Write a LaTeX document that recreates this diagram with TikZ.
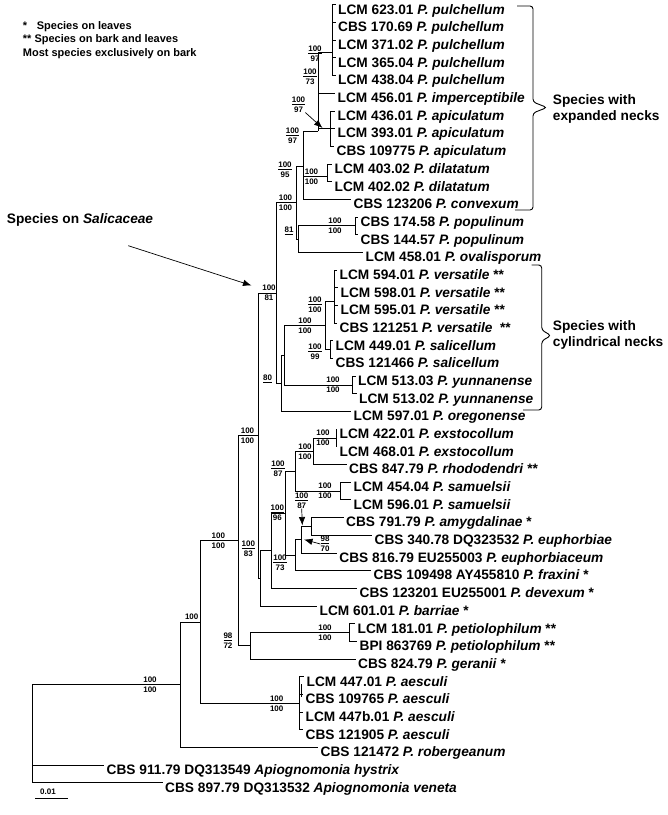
\documentclass[tikz,border=0pt]{standalone}
\usepackage{fontspec}
\setmainfont{Liberation Sans}
\usepackage{tikz}
\usetikzlibrary{arrows.meta}
\tikzset{branch/.style={line width=0.9pt}}
\tikzset{taxon/.style={anchor=west,inner xsep=2.5pt,inner ysep=0pt,text height=18.6pt,text depth=0pt,font=\fontsize{13.7}{16}\selectfont\bfseries}}
\tikzset{supp/.style={align=center,inner sep=0pt,font=\fontsize{8}{10}\selectfont\bfseries}}
\tikzset{note/.style={anchor=base west,inner sep=0pt,font=\fontsize{13.7}{16}\selectfont\bfseries}}
\tikzset{legend/.style={anchor=base west,inner sep=0pt,font=\fontsize{11}{13}\selectfont\bfseries}}
\tikzset{pointer/.style={-{Latex[length=8.5pt,width=6.5pt]},line width=0.7pt}}

\begin{document}
\begin{tikzpicture}[x=1pt,y=-1pt]
\useasboundingbox (0,0) rectangle (668,815);
% legend and notes
\node[legend] (leg1) at (22.7,29) {\makebox[14pt][l]{*}Species on leaves};
\node[legend] (leg2) at (22.7,42.7) {** Species on bark and leaves};
\node[legend] (leg3) at (22.7,56.7) {Most species exclusively on bark};
\node[note] (sali) at (6.7,223) {Species on \textit{Salicaceae}};
\node[note] (exp1) at (552.7,104) {Species with};
\node[note] (exp2) at (552.7,120) {expanded necks};
\node[note] (cyl1) at (552.7,330) {Species with};
\node[note] (cyl2) at (552.7,346.6) {cylindrical necks};

% internal nodes of the tree
\coordinate (root) at (32,733.8);
\coordinate (ing) at (180,684.7);
\coordinate (n100a) at (200,622);
\coordinate (aesc) at (299,703.3);
\coordinate (nmain) at (238.3,540.75);
\coordinate (n98) at (250,645.8);
\coordinate (pet) at (349.3,632.5);
\coordinate (T) at (258.3,435.7);
\coordinate (n83) at (260,578.4);
\coordinate (ndev) at (271.7,550.8);
\coordinate (n96) at (285,513.2);
\coordinate (nfr) at (295,555.2);
\coordinate (n9870) at (301.7,539.7);
\coordinate (amy) at (311.7,526.5);
\coordinate (n87) at (295.7,471.2);
\coordinate (nex) at (313.3,451.3);
\coordinate (exst) at (336,438.1);
\coordinate (sam) at (340,491.1);
\coordinate (S) at (276.7,293);
\coordinate (c80) at (281.7,383.4);
\coordinate (nvy) at (284.3,355.2);
\coordinate (yun) at (352.7,385);
\coordinate (nvs) at (325,325.4);
\coordinate (vers) at (334,301);
\coordinate (sal) at (330,349.7);
\coordinate (e1) at (296,202.6);
\coordinate (n81) at (298,239.2);
\coordinate (pop) at (355,225.9);
\coordinate (n95) at (303,166);
\coordinate (dil) at (327.7,176);
\coordinate (n318) at (318,131);
\coordinate (apic) at (330,128.7);
\coordinate (pulch) at (332,52);

% taxa
\node[taxon] (t1) at (335.5,4.9) {LCM 623.01 \textit{P. pulchellum}};
\node[taxon] (t2) at (335.5,22.58) {CBS 170.69 \textit{P. pulchellum}};
\node[taxon] (t3) at (335.5,40.26) {LCM 371.02 \textit{P. pulchellum}};
\node[taxon] (t4) at (335.5,57.94) {LCM 365.04 \textit{P. pulchellum}};
\node[taxon] (t5) at (335.5,75.62) {LCM 438.04 \textit{P. pulchellum}};
\node[taxon] (t6) at (335,93.3) {LCM 456.01 \textit{P. imperceptibile}};
\node[taxon] (t7) at (335,110.98) {LCM 436.01 \textit{P. apiculatum}};
\node[taxon] (t8) at (335,128.66) {LCM 393.01 \textit{P. apiculatum}};
\node[taxon] (t9) at (334,146.34) {CBS 109775 \textit{P. apiculatum}};
\node[taxon] (t10) at (332,164.02) {LCM 403.02 \textit{P. dilatatum}};
\node[taxon] (t11) at (332,181.7) {LCM 402.02 \textit{P. dilatatum}};
\node[taxon] (t12) at (351,199.38) {CBS 123206 \textit{P. convexum}};
\node[taxon] (t13) at (358,217.06) {CBS 174.58 \textit{P. populinum}};
\node[taxon] (t14) at (358,234.74) {CBS 144.57 \textit{P. populinum}};
\node[taxon] (t15) at (363,252.42) {LCM 458.01 \textit{P. ovalisporum}};
\node[taxon] (t16) at (337,270.1) {LCM 594.01 \textit{P. versatile} **};
\node[taxon] (t17) at (338,287.78) {LCM 598.01 \textit{P. versatile} **};
\node[taxon] (t18) at (338,305.46) {LCM 595.01 \textit{P. versatile} **};
\node[taxon] (t19) at (337,323.14) {CBS 121251 \textit{P. versatile}\ \ **};
\node[taxon] (t20) at (333,340.82) {LCM 449.01 \textit{P. salicellum}};
\node[taxon] (t21) at (333,358.5) {CBS 121466 \textit{P. salicellum}};
\node[taxon] (t22) at (355.5,376.18) {LCM 513.03 \textit{P. yunnanense}};
\node[taxon] (t23) at (356.5,393.86) {LCM 513.02 \textit{P. yunnanense}};
\node[taxon] (t24) at (351,411.54) {LCM 597.01 \textit{P. oregonense}};
\node[taxon] (t25) at (337,429.22) {LCM 422.01 \textit{P. exstocollum}};
\node[taxon] (t26) at (337,446.9) {LCM 468.01 \textit{P. exstocollum}};
\node[taxon] (t27) at (346.5,464.58) {CBS 847.79 \textit{P. rhododendri} **};
\node[taxon] (t28) at (351,482.26) {LCM 454.04 \textit{P. samuelsii}};
\node[taxon] (t29) at (351,499.94) {LCM 596.01 \textit{P. samuelsii}};
\node[taxon] (t30) at (343.5,517.62) {CBS 791.79 \textit{P. amygdalinae} *};
\node[taxon] (t31) at (372,535.3) {CBS 340.78 DQ323532 \textit{P. euphorbiae}};
\node[taxon] (t32) at (336.7,552.98) {CBS 816.79 EU255003 \textit{P. euphorbiaceum}};
\node[taxon] (t33) at (371,570.66) {CBS 109498 AY455810 \textit{P. fraxini} *};
\node[taxon] (t34) at (357,588.34) {CBS 123201 EU255001 \textit{P. devexum} *};
\node[taxon] (t35) at (317,606.02) {LCM 601.01 \textit{P. barriae} *};
\node[taxon] (t36) at (355,623.7) {LCM 181.01 \textit{P. petiolophilum} **};
\node[taxon] (t37) at (357,641.38) {BPI 863769 \textit{P. petiolophilum} **};
\node[taxon] (t38) at (355.5,659.06) {CBS 824.79 \textit{P. geranii} *};
\node[taxon] (t39) at (304,676.74) {LCM 447.01 \textit{P. aesculi}};
\node[taxon] (t40) at (303,694.42) {CBS 109765 \textit{P. aesculi}};
\node[taxon] (t41) at (303,712.1) {LCM 447b.01 \textit{P. aesculi}};
\node[taxon] (t42) at (303,729.78) {CBS 121905 \textit{P. aesculi}};
\node[taxon] (t43) at (318,747.46) {CBS 121472 \textit{P. robergeanum}};
\node[taxon] (t44) at (104,765.14) {CBS 911.79 DQ313549 \textit{Apiognomonia hystrix}};
\node[taxon] (t45) at (162.5,782.82) {CBS 897.79 DQ313532 \textit{Apiognomonia veneta}};

% branches
\draw[branch] (root) |- (ing) (root) |- (t44) (root) |- (t45);
\draw[branch] (ing) |- (n100a) (ing) |- (t43);
\draw[branch] (n100a) |- (nmain) (n100a) |- (aesc);
\draw[branch] (aesc) |- (t39) (aesc) |- (t40) (aesc) |- (t41) (aesc) |- (t42);
\draw[line width=1.5pt] (301.5,684) -- (301.5,697);
\draw[branch] (nmain) |- (T) (nmain) |- (n98);
\draw[branch] (n98) |- (pet) (n98) |- (t38);
\draw[branch] (pet) |- (t36) (pet) |- (t37);
\draw[branch] (T) |- (S) (T) |- (n83);
\draw[branch] (n83) |- (ndev) (n83) |- (t35);
\draw[branch] (ndev) |- (n96) (ndev) |- (t34);
\draw[branch] (n96) |- (n87) (n96) |- (nfr);
\draw[branch] (nfr) |- (n9870) (nfr) |- (t33);
\draw[branch] (n9870) |- (amy) (n9870) |- (t32);
\draw[branch] (amy) |- (t30) (amy) |- (t31);
\draw[branch] (n87) |- (nex) (n87) |- (sam);
\draw[branch] (sam) |- (t28) (sam) |- (t29);
\draw[branch] (nex) |- (exst) (nex) |- (t27);
\draw[branch] (exst) |- (t25) (exst) |- (t26);
\draw[branch] (S) |- (e1) (S) |- (c80);
\draw[branch] (c80) |- (nvy) (c80) |- (t24);
\draw[branch] (nvy) |- (nvs) (nvy) |- (yun);
\draw[branch] (yun) |- (t22) (yun) |- (t23);
\draw[branch] (nvs) |- (vers) (nvs) |- (sal);
\draw[branch] (vers) |- (t16) (vers) |- (t17) (vers) |- (t18) (vers) |- (t19);
\draw[branch] (sal) |- (t20) (sal) |- (t21);
\draw[branch] (e1) |- (n95) (e1) |- (n81);
\draw[branch] (n81) |- (pop) (n81) |- (t15);
\draw[branch] (pop) |- (t13) (pop) |- (t14);
\draw[branch] (n95) |- (n318) (n95) |- (dil) (n95) |- (t12);
\draw[branch] (dil) |- (t10) (dil) |- (t11);
\draw[branch] (n318) |- (pulch) (n318) |- (t6) (n318) |- (apic);
\draw[branch] (apic) |- (t7) (apic) |- (t8) (apic) |- (t9);
\draw[branch] (pulch) |- (t1) (pulch) |- (t2) (pulch) |- (t3) (pulch) |- (t4) (pulch) |- (t5);

% support values
\node[supp] (bs1) at (315,54) {\underline{100}\\97};
\node[supp] (bs2) at (310,77) {\underline{100}\\73};
\node[supp] (bs3) at (298.5,104.5) {\underline{100}\\97};
\node[supp] (bs4) at (292.5,135.5) {\underline{100}\\97};
\node[supp] (bs5) at (311.5,177) {100\\100};
\node[supp] (bs6) at (285,169.5) {\underline{100}\\95};
\node[supp] (bs7) at (285.5,202.6) {100\\100};
\node[supp] (bs8) at (289,231) {\underline{81}};
\node[supp] (bs9) at (335,225.9) {100\\100};
\node[supp] (bs10) at (269,293) {100\\81};
\node[supp] (bs11) at (305,325.4) {100\\100};
\node[supp] (bs12) at (315,305) {\underline{100}\\100};
\node[supp] (bs13) at (315,351.5) {\underline{100}\\99};
\node[supp] (bs14) at (333,385) {100\\100};
\node[supp] (bs15) at (267.5,379) {\underline{80}};
\node[supp] (bs16) at (247.5,435.7) {100\\100};
\node[supp] (bs17) at (323,438.1) {100\\100};
\node[supp] (bs18) at (305,451.3) {100\\100};
\node[supp] (bs19) at (278,469) {\underline{100}\\87};
\node[supp] (bs20) at (325,491.1) {100\\100};
\node[supp] (bs21) at (301.7,500.5) {\underline{100}\\87};
\node[supp] (bs22) at (277.3,512.5) {\underline{100}\\96};
\node[supp] (bs23) at (325,544) {\underline{98}\\70};
\node[supp] (bs24) at (280,563) {\underline{100}\\73};
\node[supp] (bs25) at (248.3,549) {\underline{100}\\83};
\node[supp] (bs26) at (218.3,540.75) {100\\100};
\node[supp] (bs27) at (228,641) {\underline{98}\\72};
\node[supp] (bs28) at (325,632.5) {100\\100};
\node[supp] (bs29) at (191.7,617) {100};
\node[supp] (bs30) at (276.7,703.3) {100\\100};
\node[supp] (bs31) at (150,684.7) {100\\100};

% pointers
\coordinate (salfrom) at (128.3,245.7);
\coordinate (salto) at (251.5,285.5);
\coordinate (apicpt) at (322.5,128);
\coordinate (amypt) at (302.3,525.5);
\coordinate (eupt) at (304,539.5);
\draw[pointer] (salfrom) -- (salto);
\draw[pointer] (bs3.south east) -- (apicpt);
\draw[pointer] (bs21.south) -- (amypt);
\draw[pointer] (bs23.west) -- (eupt);

% braces
\draw[branch,rounded corners=3pt] (517,6) -- (533,6) -- (533,102) -- (547,107.5) -- (533,113) -- (533,210) -- (515,210);
\draw[branch,rounded corners=3pt] (531.5,265) -- (541.7,265) -- (541.7,330) -- (551,335.5) -- (541.7,341) -- (541.7,410) -- (523,410);

% scale bar
\draw[branch] (35,798.3) -- (68.3,798.3);
\node[supp] (scale) at (48,792) {0.01};
\end{tikzpicture}
\end{document}
